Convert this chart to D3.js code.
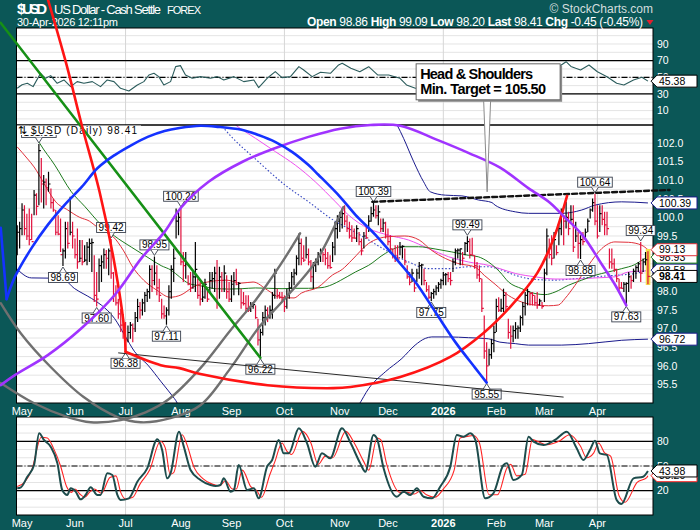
<!DOCTYPE html>
<html>
<head>
<meta charset="utf-8">
<script src="https://cdn.jsdelivr.net/npm/d3@7"></script>
<style>
  body { margin: 0; background: #0b5757; }
  svg text { font-family: "Liberation Sans", Arial, sans-serif; }
</style>
</head>
<body>
<div id="chart"></div>
<script>
// ---- daily bars, one per weekday starting Tue 29-Apr-2025 ----
var highs = [99.79,99.88,100.38,100.33,100.10,100.24,100.10,100.74,100.65,101.98,101.60,101.14,101.05,101.23,100.78,100.51,100.20,100.06,99.97,99.16,
  99.88,99.88,100.56,99.88,99.43,99.70,99.39,99.39,99.25,99.34,99.43,99.43,98.98,98.53,98.89,98.98,99.16,99.12,99.16,99.42,
  98.53,98.17,97.81,97.54,97.40,97.18,97.09,97.18,97.14,97.45,97.81,97.72,97.81,97.99,98.08,98.71,98.71,98.95,98.71,98.35,
  97.81,97.63,97.58,98.17,98.71,99.16,100.24,100.15,100.26,99.07,99.07,98.44,98.53,98.53,99.34,98.35,98.26,98.17,98.35,98.08,
  98.53,98.53,98.67,98.85,98.67,98.53,98.71,98.44,98.26,98.44,98.53,98.62,98.26,98.08,97.99,97.90,97.90,97.72,97.72,97.63,
  97.27,97.00,97.45,97.63,97.58,97.63,97.99,98.62,98.08,97.99,97.99,97.90,98.08,98.26,98.53,98.62,98.98,99.57,99.43,99.25,
  99.48,99.16,98.85,98.80,98.89,99.07,99.16,99.07,99.16,99.07,98.98,99.34,99.88,100.06,100.15,100.24,100.33,100.06,99.88,99.79,
  99.70,99.79,99.61,99.43,99.61,99.79,100.06,100.29,100.39,100.33,100.33,99.97,99.97,99.88,99.70,99.52,99.16,99.25,99.25,99.34,
  99.25,99.16,98.71,98.53,98.62,98.35,98.62,98.80,98.75,98.62,98.26,98.17,97.99,98.08,98.17,98.26,98.35,98.53,98.50,98.53,
  98.53,98.89,99.16,99.16,99.16,99.07,99.34,99.49,99.43,99.45,98.98,98.80,98.71,98.35,97.36,96.64,96.46,96.73,97.09,97.81,
  97.85,97.81,98.08,97.99,97.27,97.09,97.09,97.18,97.09,97.36,97.72,97.99,98.08,97.99,97.99,97.90,97.99,97.81,97.72,98.62,
  99.70,99.43,99.52,99.61,99.25,99.79,100.24,100.06,100.42,100.15,100.33,100.33,99.88,99.61,99.52,99.61,99.70,99.97,100.24,100.51,
  100.64,100.33,100.33,100.33,100.15,100.15,99.16,99.16,98.89,98.62,98.35,98.26,98.26,98.25,98.53,98.44,98.62,98.71,98.80,99.34,
  98.89,99.07,99.09];
var lows = [98.98,99.16,99.52,99.52,99.39,99.25,99.39,100.06,100.06,100.33,100.40,100.24,100.33,100.69,100.24,100.15,99.52,99.52,99.07,98.69,
  98.89,99.16,99.52,99.16,98.89,98.62,98.80,98.71,98.80,98.71,98.80,98.53,97.72,97.60,97.99,98.26,98.62,98.62,98.44,98.35,
  97.72,97.63,97.27,96.91,96.73,96.38,96.64,96.73,96.64,96.91,97.18,97.27,97.36,97.45,97.72,97.81,97.99,98.17,97.90,97.72,
  97.27,97.27,97.11,97.36,97.81,98.26,99.43,99.52,98.71,98.26,98.35,98.17,97.99,98.08,97.99,97.81,97.63,97.72,97.81,97.72,
  97.99,98.08,97.99,97.54,97.81,97.99,97.99,97.81,97.72,97.72,97.90,98.17,97.90,97.54,97.63,97.45,97.45,97.45,97.54,97.27,
  96.55,96.22,96.82,97.09,97.18,97.27,97.27,97.81,97.81,97.81,97.72,97.45,97.54,97.81,98.08,98.17,98.44,98.71,98.71,98.80,
  98.89,98.71,98.26,98.08,98.53,98.71,98.80,98.80,98.71,98.62,98.62,98.80,98.98,99.43,99.61,99.70,99.79,99.61,99.43,99.34,
  99.43,99.34,99.25,98.98,99.16,99.43,99.61,99.88,100.02,99.97,99.79,99.61,99.61,99.43,99.25,99.07,98.89,98.80,98.85,98.98,
  98.89,98.71,98.35,98.17,98.26,97.99,98.26,98.35,98.17,98.17,97.99,97.80,97.75,97.81,97.90,97.99,98.08,98.17,98.17,98.26,
  98.17,98.53,98.71,98.89,98.71,98.71,98.98,99.07,98.89,98.98,98.62,98.35,98.26,97.45,96.19,95.55,96.01,96.19,96.37,96.91,
  97.45,97.45,97.45,97.45,96.73,96.46,96.64,96.73,96.73,96.91,97.09,97.36,97.63,97.63,97.63,97.63,97.54,97.63,97.54,97.72,
  98.44,98.89,98.71,98.89,98.98,99.25,99.52,99.25,99.70,99.52,99.88,99.07,99.34,98.89,98.88,99.25,99.43,99.61,99.97,100.15,
  99.79,99.43,99.61,99.79,99.52,99.52,98.62,98.62,98.53,98.26,97.99,98.08,97.99,97.63,97.99,98.08,98.26,98.35,98.53,98.26,
  98.53,98.71,98.20];
var closes = [99.60,99.70,100.20,99.70,99.50,99.40,99.35,100.60,100.30,101.80,100.90,100.95,100.80,100.90,100.40,100.20,99.60,99.55,99.00,99.10,
  99.70,99.30,99.60,99.50,99.00,98.80,98.90,98.80,98.85,99.20,99.30,99.32,97.90,97.80,98.70,98.80,99.00,98.90,99.10,98.50,
  97.90,97.70,97.40,97.10,96.90,96.70,96.90,97.10,97.00,97.30,97.60,97.50,97.70,97.90,98.00,98.60,98.30,98.50,98.10,97.90,
  97.40,97.35,97.50,98.00,98.60,98.90,99.90,100.00,98.80,98.70,98.75,98.20,98.10,98.40,98.60,97.90,97.80,97.85,98.20,97.80,
  98.30,98.35,98.50,97.70,98.40,98.30,98.50,98.00,97.80,98.20,98.30,98.20,98.22,97.70,97.68,97.55,97.50,97.60,97.65,97.30,
  96.70,96.90,97.30,97.50,97.30,97.50,97.90,98.50,97.90,97.85,97.80,97.60,97.90,98.10,98.40,98.50,98.90,99.30,98.90,98.85,
  99.00,98.80,98.40,98.70,98.80,99.00,99.10,99.00,98.90,98.70,98.65,99.20,99.70,99.90,100.00,100.10,99.90,99.70,99.50,99.45,
  99.44,99.70,99.35,99.10,99.50,99.45,99.90,100.10,100.20,100.05,100.15,99.70,99.85,99.50,99.35,99.15,98.95,98.90,98.88,99.20,
  99.22,98.80,98.40,98.25,98.50,98.10,98.50,98.70,98.72,98.30,98.05,97.85,97.95,98.00,98.10,98.20,98.30,98.45,98.46,98.35,
  98.30,98.80,99.10,99.12,99.15,98.90,99.30,99.35,99.00,98.98,98.70,98.45,98.35,97.55,96.40,96.00,96.30,96.60,96.90,97.60,
  97.50,97.55,97.90,97.60,96.90,96.80,96.95,97.00,97.02,97.30,97.60,97.90,98.00,97.95,97.90,97.70,97.65,97.75,97.60,98.50,
  99.50,99.00,98.90,99.40,99.05,99.70,100.10,99.90,100.00,99.70,99.95,99.20,99.50,99.30,99.40,99.35,99.60,99.90,100.20,100.40,
  99.90,99.50,100.10,99.95,99.80,99.70,98.80,98.75,98.60,98.35,98.10,98.09,98.20,98.22,98.40,98.30,98.55,98.65,98.75,98.50,
  98.80,98.86,98.41];
var lastQuote = { open: 98.86, chg: -0.45, chgPct: -0.45 };

// ---- overlays on the price panel: [bar index, value] ----
var redMA = [[0,101.9],[4,101.6],[7,101.36],[11,100.93],[14,100.6],[16,100.42],[21,100.2],[26,100.0],[30,99.9],[33,99.75],[37,99.6],[40,99.47],
  [44,99.12],[48,98.66],[52.5,98.31],[58,98.04],[63.5,97.85],[68,97.91],[73,98.12],[79,98.26],[87,98.31],[93,98.23],[98,98.26],[104,98.04],
  [109,97.85],[115,97.83],[118,97.96],[125,98.12],[131,98.45],[135,98.6],[139,98.85],[146,99.3],[154,99.48],[161,99.5],[167,99.39],[172,99.12],
  [178,98.89],[183,98.76],[190,98.67],[194,98.44],[198.5,98.2],[204,97.9],[209.6,97.72],[215,97.64],[220.7,97.62],[224.8,97.64],[227.6,97.82],
  [231.7,98.17],[237.3,98.71],[242.8,99.16],[248.3,99.34],[253.9,99.33],[259.4,99.25],[262,99.13]];
var greenMA = [[0,103.0],[5,102.5],[9.3,102.0],[15.6,101.41],[22.5,100.69],[28,100.3],[34.9,99.8],[40.4,99.5],[47.4,99.2],[54.3,98.92],[59.8,98.7],
  [63.9,98.58],[67.4,98.40],[71.3,98.22],[76.8,98.15],[82.4,98.08],[87.9,98.07],[93.4,98.08],[98.9,98.10],[104.5,98.09],[110,98.08],[115.5,98.09],
  [121,98.09],[126.6,98.11],[130.8,98.19],[134.2,98.3],[140.5,98.53],[146,98.71],[152.9,99.03],[159.8,99.21],[166.7,99.21],[173.6,99.15],
  [180.5,99.07],[187.4,98.98],[191.5,98.94],[195.7,98.80],[200.5,98.53],[204.1,98.26],[209.6,98.08],[215.1,97.95],[219.3,97.92],[223.4,97.99],
  [228.9,98.17],[234.5,98.31],[240,98.44],[245.5,98.53],[251.1,98.62],[256.6,98.73],[260.7,98.89],[262,98.93]];
var magentaMA = [[85,102.8],[90.7,102.49],[99,102.13],[107.3,101.77],[115.5,101.41],[123.8,100.96],[132.2,100.42],[137.7,100.06],[146,99.70],
  [154.3,99.52],[162.6,99.39],[170.9,99.16],[179.2,98.94],[187.4,98.80],[195.7,98.71],[200.5,98.62],[206.9,98.49],[215.1,98.40],[223.4,98.34],
  [231.7,98.34],[240,98.37],[248.3,98.40],[253.9,98.53],[262,98.56]];
var channelMid = [[80,102.9],[86.4,102.36],[100.2,101.5],[111.3,100.87],[121,100.42],[132,99.9],[137.7,99.70],[146,99.39],[154.3,99.07],
  [162.6,98.80],[170.9,98.62],[179.2,98.62],[187.4,98.67],[195.7,98.67],[200.5,98.60],[206.9,98.44],[215.1,98.33],[223.4,98.31],[231.7,98.35],
  [240,98.40],[248.3,98.44],[256.6,98.49],[262,98.58]];
var channelUpper = [[150,103.2],[157.8,102.49],[160.5,102.13],[164.7,101.5],[168.8,100.96],[171.6,100.69],[177.8,100.6],[184.7,100.58],
  [191.6,100.47],[197.2,100.4],[198.5,100.33],[206.9,100.15],[212.4,100.11],[226.2,100.11],[234.5,100.2],[240,100.33],[251.1,100.42],[262,100.39]];
var channelLower = [[-1,98.67],[5.9,98.37],[18.3,98.36],[23.9,98.08],[30.8,97.82],[34.9,97.64],[40.4,97.28],[44.6,96.83],[48.8,96.38],
  [54.3,96.02],[59.8,95.57],[65.3,95.12],[70,94.7],[138,94.6],[141.8,94.94],[146,95.39],[152.9,95.84],[159.8,96.2],[165.3,96.56],[169.5,96.74],
  [172.2,96.78],[179.2,96.78],[187.4,96.76],[195.7,96.73],[200.5,96.64],[206.9,96.6],[212.4,96.56],[226.2,96.56],[237.3,96.6],[251.1,96.69],[262,96.72]];

// ---- indicator panels: [bar index, value] ----
var rsiLine = [[0,36.8],[2,41],[4.2,42.8],[6.6,38.8],[9.7,54.8],[11.8,48.8],[13.9,52],[16.6,42.8],[19.4,46.8],[22.2,38.8],[24.9,44.8],[27.7,42.8],
  [31.2,44.8],[34.6,38.8],[37.4,46.8],[40.2,44.8],[42.9,36.8],[46.4,33.6],[49.9,40.8],[52.6,44.8],[54.7,52.8],[56.8,54.8],[58.8,50.8],[60.9,40.8],
  [63.7,44.8],[65.8,62.8],[67.8,64],[69.9,52.8],[72.7,48.8],[76.1,50.8],[80.3,48.8],[83.1,50.8],[85.8,46.8],[90,50.8],[94.1,44.8],[98.3,46.8],
  [100.3,37.6],[103.8,48.8],[107.2,56.8],[110,49.6],[113.5,50.8],[117,62.8],[119,58.8],[122.5,50.8],[126,56],[130.1,54.8],[133.5,64.8],[135,66.8],
  [138.6,60.8],[142.3,56.7],[146,62.7],[149.7,52.8],[154.3,52.8],[159,48.8],[161.7,40.8],[165.4,36.8],[170,38],[175,44],[180,48],[185,55],
  [190,50],[195,32],[200,42],[205,38],[210,46],[215,50],[220,56],[224,60],[226,64.8],[228,68.7],[230,63],[232,60.8],[234,58.8],[237.5,64.8],
  [241,56.7],[245,50.7],[249,42.8],[252,40.8],[256,46.7],[259.5,50],[262,45.38]];
var stochK = [[0,22.9],[1.5,24.1],[4.2,37],[7,51.2],[9.1,89.7],[11.1,81.6],[13.9,73.5],[16.7,53.2],[18.7,20.8],[20.8,14.8],[22.2,22.9],[24.3,18.8],
  [26.3,9.5],[28.4,14.8],[30.5,24.1],[33.3,14.8],[34.6,14.8],[37.4,41.1],[39.5,39.1],[41.6,14.8],[42.9,8.7],[46.4,10.7],[49.9,31],[54,47.2],
  [58.2,82.4],[60.2,69.4],[62.3,35],[63.7,41.1],[67.2,91.7],[69.2,73.5],[72,45.1],[76.1,33],[80.3,26.9],[82.4,25.7],[84.4,26.9],[85.8,35],
  [88.6,18.8],[90,20.8],[92,51.2],[95.5,20.8],[98.3,22.9],[100.3,10.7],[103.8,49.2],[105.9,57.3],[108.6,81.6],[110.7,65.4],[112.8,65.4],
  [117,95.8],[120.4,77.5],[123.8,49.2],[126.6,65.4],[130,59.3],[134.9,95.8],[138.4,78.5],[142.5,53.2],[144.6,43.1],[148,87.7],[149.4,83.6],
  [152.2,47.2],[157.7,12.7],[160.5,18.8],[163.3,14.8],[166,22.9],[168.8,12.7],[172.3,10.7],[175.7,24.9],[179.9,49.2],[182.6,87.7],[185.4,85.6],
  [188.2,89.7],[190.3,81.6],[194.4,10.7],[197.8,16.8],[202,51.2],[203.4,53.2],[206.1,33],[209.6,39.1],[212.4,85.6],[214.5,79.6],[218.6,75.5],
  [223.4,81.6],[228.3,91.7],[232.4,71.5],[235.2,57.3],[237.9,69.4],[240,80.8],[242,65.4],[244.9,63.4],[249,8.7],[251,3.8],[256,35],[260,37],[262,43.98]];
var stochD = [[0,25],[3,30],[6,45],[10,85],[12.5,84],[15,72],[18,50],[20.5,25],[22.5,18],[24,22],[26,16],[28,12],[30,18],[32,22],[35,17],
  [38.5,36],[41,38],[43,18],[45,10],[48,12],[51,28],[55,45],[59.5,80],[61.5,72],[63.5,40],[65,42],[68.5,88],[70.5,76],[73.5,48],[77,35],[81,28],
  [84,26],[86.5,32],[89.5,22],[91,22],[93.5,45],[97,25],[99.5,20],[101.5,12],[105,40],[107,55],[110,78],[112,68],[114,64],[118.5,92],[122,78],
  [125,52],[128,62],[131,60],[136.5,92],[140,78],[144,55],[146,45],[149.5,84],[151,82],[153.5,52],[159,18],[162,18],[165,16],[167.5,20],[170,15],
  [173.5,12],[177,22],[181.5,45],[184,84],[187,86],[189.5,87],[192,78],[196,15],[199.5,15],[203.5,48],[205,52],[207.5,38],[211,40],[214,82],
  [216,80],[220,76],[225,80],[229.5,88],[234,74],[236.5,60],[239.5,66],[241.5,78],[244,66],[246.5,62],[250,14],[252.5,6],[257.5,30],[261.5,36],[262,38.2]];

// swing labels: [bar index, "h" = high / "l" = low]
var swingLabels = [[9,"h"],[19,"l"],[33,"l"],[39,"h"],[45,"l"],[57,"h"],[62,"l"],[68,"h"],[101,"l"],[148,"h"],[172,"l"],[187,"h"],[195,"l"],
  [234,"l"],[240,"h"],[253,"l"],[259,"h"]];

// ---- chart notes drawn by hand on the chart: [bar index, price] ----
var blueTail = [[-6.85,99.72],[-4.4,97.8]];
var blueArc = [[-4.4,97.8],[-1.0,98.39],[6.0,99.18],[12.7,99.80],[19.7,100.34],[26.8,100.82],[33.4,101.33],[40.5,101.68],[47.5,101.95],[54.2,102.17],
  [61.2,102.33],[67.4,102.41],[76.1,102.47],[83.6,102.44],[93.2,102.36],[100.2,102.22],[107.3,102.03],[114.3,101.76],[121,101.41],[125.1,101.15],
  [134.2,100.55],[140.5,100.07],[148.8,99.53],[157.1,98.91],[165.4,98.26],[173.7,97.45],[182,96.64],[190.3,95.94],[195,95.55]];
var purpleArc = [[-6.85,95.48],[-1.0,95.75],[12.7,96.29],[26.8,97.02],[40.5,97.91],[51.7,98.91],[61.2,99.61],[68,100.26],[79.5,100.96],[93.6,101.5],
  [107.3,101.87],[121,102.17],[134.2,102.39],[146.7,102.49],[159.1,102.47],[174.5,102.09],[187.4,101.74],[200.6,101.34],[212.3,100.79],
  [221.4,100.39],[226.4,100.07],[234.7,99.53],[243,98.72],[248.4,98.18],[253,97.63]];
var redArcEnd = [[12.4,105.95],[20.5,104.11],[26.8,102.49],[34.2,100.69],[40.5,98.72],[44.6,96.91],[45,96.38]];
var redArc = [[45,96.38],[59.6,96.02],[67.4,95.94],[76.1,95.78],[104,95.48],[131.3,95.40],[138.4,95.43],[159.1,95.70],[179.9,96.24],
  [193.6,96.88],[204.8,97.59],[216,98.50],[222.6,99.39],[228.4,100.58]];
var grayArcA = [[-6.85,97.69],[1.45,96.88],[13.9,95.97],[27.6,95.16],[41.7,94.62],[51.3,94.48],[63.7,94.59],[76.1,94.94],[88.6,95.94],
  [100.2,97.02],[111.4,97.83],[123.9,98.80],[135.5,100.28]];
var grayArcB = [[-6.85,95.54],[6.85,95.0],[21,94.62],[30.5,94.48],[43,94.54],[53.3,94.75],[62.5,95.08],[76.1,95.94],[88.6,96.96],
  [99,97.77],[109.3,98.72],[117.5,99.57]];
var greenLine = [[-6.85,105.24],[101,96.22]];
var supportLine = [[42.1,96.35],[226.8,95.16]];
var neckline = [[147.5,100.42],[271,100.74]];
var calloutAnchor = [195.2,100.69];
var calloutText = ["Head & Shoulders", "Min. Target = 105.50"];

// ---- layout ----
var W = 700, H = 530;
var left = 16.5, right = 653;
var rsiTop = 28, mainTop = 125, mainBottom = 403, stoTop = 417, stoBottom = 515;
var tealBg = "#0b5757";
var redBar = "#e0103c";

var x = d3.scaleLinear().domain([-0.3, 264.1]).range([left, right]);
var yPrice = d3.scaleLinear().domain([95.0, 102.49]).range([mainBottom, mainTop]);
var yRsi = d3.scaleLinear().domain([-7.3, 109.2]).range([mainTop, rsiTop]);
var ySto = d3.scaleLinear().domain([-9.5, 109.5]).range([stoBottom, stoTop]);

// calendar: weekdays from the first bar
var dates = [];
for (var d = new Date(2025, 3, 29); dates.length < closes.length; d.setDate(d.getDate() + 1)) {
  if (d.getDay() !== 0 && d.getDay() !== 6) dates.push(new Date(d));
}
var monthStarts = [];
dates.forEach(function(dt, i) {
  if (i > 0 && dt.getMonth() !== dates[i - 1].getMonth()) monthStarts.push(i);
});
var quarterStarts = monthStarts.filter(function(i) { return dates[i].getMonth() % 3 === 0; });

var svg = d3.select("#chart").append("svg").attr("width", W).attr("height", H);
svg.append("rect").attr("width", W).attr("height", H).attr("fill", tealBg);

var defs = svg.append("defs");
function clip(id, top, bottom) {
  defs.append("clipPath").attr("id", id).append("rect")
    .attr("x", left).attr("y", top).attr("width", right - left).attr("height", bottom - top);
}
clip("clipRsi", rsiTop, mainTop);
clip("clipMain", mainTop, mainBottom);
clip("clipSto", stoTop, stoBottom);

// panel background + grid
function panel(top, bottom, yScale, gridVals) {
  var g = svg.append("g");
  g.append("rect").attr("x", left).attr("y", top).attr("width", right - left).attr("height", bottom - top).attr("fill", "#fff");
  g.selectAll("line.h").data(gridVals).enter().append("line")
    .attr("x1", left).attr("x2", right)
    .attr("y1", function(v) { return yScale(v); }).attr("y2", function(v) { return yScale(v); })
    .attr("stroke", "#e4e4e4").attr("stroke-width", 1);
  g.selectAll("line.v").data(quarterStarts).enter().append("line")
    .attr("x1", function(i) { return x(i); }).attr("x2", function(i) { return x(i); })
    .attr("y1", top).attr("y2", bottom)
    .attr("stroke", "#d6d6d6").attr("stroke-width", 1);
  return g;
}
function level(g, yScale, v, dash) {
  g.append("line").attr("x1", left).attr("x2", right).attr("y1", yScale(v)).attr("y2", yScale(v))
    .attr("stroke", "#000").attr("stroke-width", 1.2).attr("stroke-dasharray", dash || null);
}

var rsiPanel = panel(rsiTop, mainTop, yRsi, d3.range(0, 101, 10));
level(rsiPanel, yRsi, 70); level(rsiPanel, yRsi, 30); level(rsiPanel, yRsi, 50, "6,2,1,2");
panel(mainTop, mainBottom, yPrice, d3.range(95.25, 102.49, 0.25));
var stoPanel = panel(stoTop, stoBottom, ySto, d3.range(0, 101, 10));
level(stoPanel, ySto, 80); level(stoPanel, ySto, 20); level(stoPanel, ySto, 50, "6,2,1,2");

function lineOn(yScale, curve) {
  return d3.line().x(function(p) { return x(p[0]); }).y(function(p) { return yScale(p[1]); }).curve(curve || d3.curveLinear);
}
function drawLine(parent, pts, yScale, color, width, dash, curve) {
  return parent.append("path").attr("d", lineOn(yScale, curve)(pts))
    .attr("fill", "none").attr("stroke", color).attr("stroke-width", width)
    .attr("stroke-dasharray", dash || null).attr("stroke-linejoin", "round");
}

// RSI
var rsiG = svg.append("g").attr("clip-path", "url(#clipRsi)");
drawLine(rsiG, rsiLine, yRsi, "#2b5c5c", 1.1);

// price overlays
var mainG = svg.append("g").attr("clip-path", "url(#clipMain)");
drawLine(mainG, channelUpper, yPrice, "#1a1a8c", 1, null, d3.curveMonotoneX);
drawLine(mainG, channelLower, yPrice, "#1a1a8c", 1, null, d3.curveMonotoneX);
drawLine(mainG, channelMid, yPrice, "#3344c0", 1.1, "1.5,2", d3.curveMonotoneX);
drawLine(mainG, magentaMA, yPrice, "#ee4fee", 1, null, d3.curveMonotoneX);
drawLine(mainG, greenMA, yPrice, "#1d7a1d", 1, null, d3.curveMonotoneX);
drawLine(mainG, redMA, yPrice, "#e0303a", 1, null, d3.curveMonotoneX);

// today's highlight
var last = closes.length - 1;
mainG.append("rect").attr("x", x(last) - 2.2).attr("width", 4.6)
  .attr("y", yPrice(highs[last] + 0.06)).attr("height", yPrice(lows[last] - 0.02) - yPrice(highs[last] + 0.06))
  .attr("fill", "#f3e04a");

// HLC bars
var bars = closes.map(function(c, i) {
  return { i: i, h: highs[i], l: lows[i], c: c, up: i === 0 || c >= closes[i - 1] };
});
var barG = mainG.selectAll("g.bar").data(bars).enter().append("g")
  .attr("stroke", function(b) { return b.up ? "#000" : redBar; }).attr("stroke-width", 1.2);
barG.append("line")
  .attr("x1", function(b) { return x(b.i); }).attr("x2", function(b) { return x(b.i); })
  .attr("y1", function(b) { return yPrice(b.h); }).attr("y2", function(b) { return yPrice(b.l); });
barG.append("line")
  .attr("x1", function(b) { return x(b.i); }).attr("x2", function(b) { return x(b.i) + 2; })
  .attr("y1", function(b) { return yPrice(b.c); }).attr("y2", function(b) { return yPrice(b.c); });

// stochastics
var stoG = svg.append("g").attr("clip-path", "url(#clipSto)");
drawLine(stoG, stochD, ySto, "#ff2424", 1.1, null, d3.curveMonotoneX);
drawLine(stoG, stochK, ySto, "#1d4c4c", 2, null, d3.curveMonotoneX);

// panel borders
[[rsiTop, mainTop], [mainTop, mainBottom], [stoTop, stoBottom]].forEach(function(p) {
  svg.append("rect").attr("x", left).attr("y", p[0]).attr("width", right - left).attr("height", p[1] - p[0])
    .attr("fill", "none").attr("stroke", "#000").attr("stroke-width", 1);
});

// right axis labels
function axisLabels(vals, yScale, fmt) {
  svg.append("g").selectAll("text").data(vals).enter().append("text")
    .attr("x", 657).attr("y", function(v) { return yScale(v); }).attr("dy", "0.35em")
    .attr("fill", "#fff").attr("font-size", 10.5).text(fmt);
}
axisLabels([10, 30, 50, 70, 90], yRsi, function(v) { return v; });
axisLabels(d3.range(95.5, 102.01, 0.5), yPrice, function(v) { return v.toFixed(1); });
axisLabels([20, 50, 80], ySto, function(v) { return v; });

// month labels under price panel and stochastics panel
[411, 523].forEach(function(yy) {
  svg.append("g").selectAll("text").data(monthStarts).enter().append("text")
    .attr("x", function(i) { return x(i); }).attr("y", yy).attr("dy", "0.35em")
    .attr("text-anchor", "middle").attr("fill", "#fff").attr("font-size", 11)
    .attr("font-weight", function(i) { return dates[i].getMonth() === 0 ? "bold" : null; })
    .text(function(i) { return dates[i].getMonth() === 0 ? d3.timeFormat("%Y")(dates[i]) : d3.timeFormat("%b")(dates[i]); });
});

// value tags on the right edge
function tag(yv, text, color, bold) {
  var g = svg.append("g");
  g.append("path").attr("d", "M651," + yv + " L657," + (yv - 6) + " L697," + (yv - 6) + " L697," + (yv + 6) + " L657," + (yv + 6) + " Z")
    .attr("fill", "#fff").attr("stroke", color).attr("stroke-width", 1);
  g.append("text").attr("x", 659).attr("y", yv).attr("dy", "0.36em").attr("font-size", 10.5)
    .attr("font-weight", bold ? "bold" : null).attr("fill", "#000").text(text);
}
function lastOf(a) { return a[a.length - 1][1]; }
tag(yRsi(lastOf(rsiLine)), lastOf(rsiLine).toFixed(2), "#000");
tag(yPrice(lastOf(channelLower)), lastOf(channelLower).toFixed(2), "#1a1a8c");
tag(yPrice(lastOf(channelMid)), lastOf(channelMid).toFixed(2), "#1a1a8c");
tag(yPrice(lastOf(greenMA)), lastOf(greenMA).toFixed(2), "#1d7a1d");
tag(yPrice(lastOf(redMA)), lastOf(redMA).toFixed(2), "#e0303a");
tag(yPrice(lastOf(channelUpper)), lastOf(channelUpper).toFixed(2), "#1a1a8c");
tag(yPrice(closes[last]), closes[last].toFixed(2), "#000", true);
tag(ySto(lastOf(stochD)), lastOf(stochD).toFixed(2), "#ff2424");
tag(ySto(lastOf(stochK)), lastOf(stochK).toFixed(2), "#000");

// swing high / low labels
var labG = svg.append("g");
swingLabels.forEach(function(s) {
  var i = s[0], isHigh = s[1] === "h";
  var v = isHigh ? highs[i] : lows[i];
  var cx = x(i), yp = yPrice(v);
  var g = labG.append("g");
  var t = g.append("text").attr("font-size", 10).attr("text-anchor", "middle").attr("fill", "#000").text(v.toFixed(2));
  var tw = t.node().getComputedTextLength();
  var top = isHigh ? yp - 16.5 : yp + 6.5;
  var edge = isHigh ? top + 10 : top;
  g.insert("rect", "text").attr("x", cx - tw / 2 - 2).attr("y", top).attr("width", tw + 4).attr("height", 10)
    .attr("fill", "#fff").attr("stroke", "#39404e").attr("stroke-width", 0.9);
  g.insert("path", "text").attr("d", "M" + (cx - 3.5) + "," + edge + " L" + cx + "," + (isHigh ? yp - 1 : yp + 1) + " L" + (cx + 3.5) + "," + edge)
    .attr("fill", "#fff").attr("stroke", "#39404e").attr("stroke-width", 0.9);
  t.attr("x", cx).attr("y", top + 8.6);
});

// price panel title
var titleG = svg.append("g");
titleG.append("rect").attr("x", left + 0.5).attr("y", mainTop + 0.5).attr("width", 124).attr("height", 9.5).attr("fill", "#fff");
titleG.append("text").attr("x", 18).attr("y", mainTop + 9).attr("font-size", 10.5).attr("fill", "#000")
  .attr("font-family", "DejaVu Sans").text("⇅");
titleG.append("text").attr("x", 31).attr("y", mainTop + 9).attr("font-size", 10).attr("fill", "#000")
  .attr("font-family", "DejaVu Sans Mono").attr("textLength", 106)
  .text("$USD (Daily) " + closes[last].toFixed(2));

// header
var hdr = svg.append("g").attr("fill", "#fff");
hdr.append("text").attr("x", 17).attr("y", 14).attr("font-size", 15).attr("font-weight", "bold")
  .attr("font-family", "'Liberation Sans Narrow', 'Liberation Sans', sans-serif").attr("textLength", 30).text("$USD");
hdr.append("text").attr("x", 54).attr("y", 14).attr("font-size", 13)
  .attr("font-family", "'Liberation Sans Narrow', 'Liberation Sans', sans-serif").attr("textLength", 107).text("US Dollar - Cash Settle");
hdr.append("text").attr("x", 167).attr("y", 14).attr("font-size", 11).attr("textLength", 34).text("FOREX");
hdr.append("text").attr("x", 653).attr("y", 13).attr("font-size", 12).attr("text-anchor", "end").attr("fill", "#d4dede").text("© StockCharts.com");
hdr.append("text").attr("x", 17).attr("y", 26).attr("font-size", 11).attr("textLength", 101)
  .text(d3.timeFormat("%d-%b-%Y")(dates[last]) + " 12:11pm");
var q = hdr.append("text").attr("x", 643).attr("y", 26).attr("font-size", 12).attr("text-anchor", "end")
  .attr("font-family", "'Liberation Sans Narrow', 'Liberation Sans', sans-serif").attr("textLength", 336);
[["Open", lastQuote.open.toFixed(2)], ["High", highs[last].toFixed(2)], ["Low", lows[last].toFixed(2)],
 ["Last", closes[last].toFixed(2)], ["Chg", lastQuote.chg.toFixed(2) + " (" + lastQuote.chgPct.toFixed(2) + "%)"]].forEach(function(p, k) {
  q.append("tspan").attr("font-weight", "bold").text((k ? " " : "") + p[0]);
  q.append("tspan").text(" " + p[1]);
});
hdr.append("path").attr("d", "M646.5,20 L653.5,20 L650,25 Z").attr("fill", "#e02030");

// chart notes (drawn over everything)
var notes = svg.append("g").attr("fill", "none").attr("stroke-linecap", "round");
var arcCurve = d3.curveCatmullRom.alpha(0.5);
drawLine(notes, grayArcA, yPrice, "#707070", 2.4, null, arcCurve);
drawLine(notes, grayArcB, yPrice, "#707070", 2.4, null, arcCurve);
drawLine(notes, supportLine, yPrice, "#2a2a2a", 1);
drawLine(notes, neckline, yPrice, "#111", 2.4, "5,3");
drawLine(notes, greenLine, yPrice, "#169016", 2.6);
drawLine(notes, redArcEnd, yPrice, "#ff1414", 2.6, null, arcCurve);
drawLine(notes, redArc, yPrice, "#ff1414", 2.6, null, arcCurve);
drawLine(notes, purpleArc, yPrice, "#a033ff", 2.6, null, arcCurve);
drawLine(notes, blueTail, yPrice, "#1432ff", 2.6);
drawLine(notes, blueArc, yPrice, "#1432ff", 2.6, null, arcCurve);

// callout
var ax = x(calloutAnchor[0]), ay = yPrice(calloutAnchor[1]);
var bx = ax - 71, by = ay - 128, bw = 144, bh = 36;
var call = svg.append("g");
call.append("path").attr("d", "M" + (ax - 3.5) + "," + (by + bh) + " L" + ax + "," + ay + " L" + (ax + 3.5) + "," + (by + bh) + " Z")
  .attr("fill", "#fff").attr("stroke", "#8a8a8a").attr("stroke-width", 1);
call.append("rect").attr("x", bx + 2).attr("y", by + 2).attr("width", bw).attr("height", bh).attr("fill", "#8c8c8c");
call.append("rect").attr("x", bx).attr("y", by).attr("width", bw).attr("height", bh).attr("fill", "#fff").attr("stroke", "#666").attr("stroke-width", 1);
call.selectAll("text").data(calloutText).enter().append("text")
  .attr("x", bx + 4).attr("y", function(t, k) { return by + 15 + k * 15.5; })
  .attr("font-size", 14.5).attr("font-weight", "bold").attr("fill", "#000")
  .attr("font-family", "'Liberation Sans Narrow', 'Liberation Sans', sans-serif")
  .attr("textLength", function(t, k) { return k ? 126 : 113; })
  .text(function(t) { return t; });
</script>
</body>
</html>
